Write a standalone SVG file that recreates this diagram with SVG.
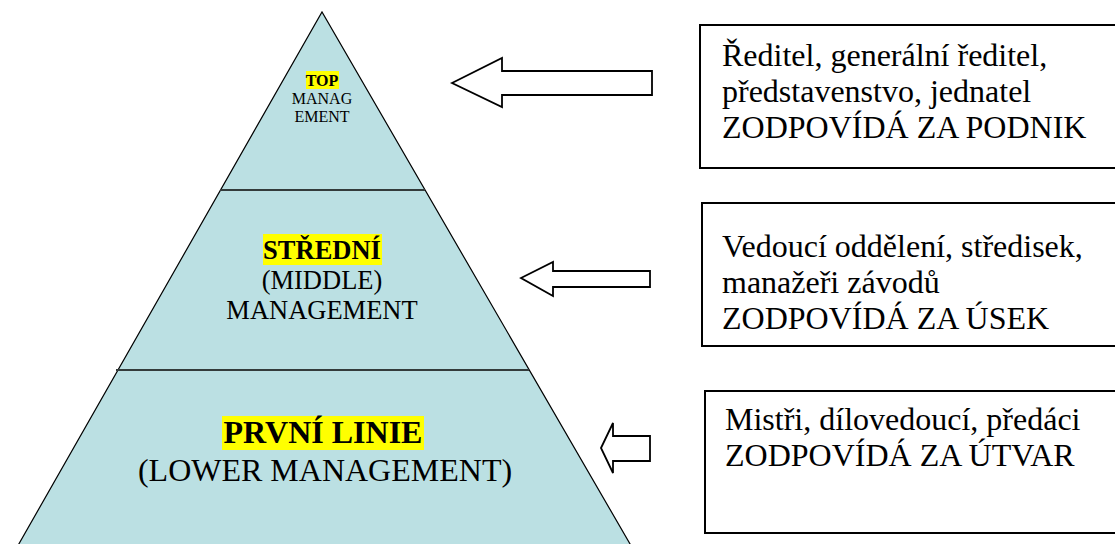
<svg xmlns="http://www.w3.org/2000/svg" width="1115" height="544" viewBox="0 0 1115 544">
<style>
text{font-family:'Liberation Serif','DejaVu Serif',serif;fill:#000}
.b{font-weight:bold}
.hl{fill:#ffff00}
.lvl{fill:#bbe0e3;stroke:none}
.edge{fill:none;stroke:#000;stroke-width:1.2}
.div{stroke:#333b3b;stroke-width:2.2}
.box{fill:#fff;stroke:#000;stroke-width:2}
.arr{fill:#fff;stroke:#000;stroke-width:1.8;stroke-linejoin:miter}
</style>
<g id="pyramid">
<polygon class="lvl" points="322,12 12,556 637,556"/>
<polyline class="edge" points="12,556 322,12 637,556"/>
</g>
<g id="top-level">
<rect class="hl" x="306" y="71" width="33" height="18"/>
<text class="b" x="322" y="86" font-size="16" text-anchor="middle" font-family="Liberation Serif">TOP</text>
<text x="322" y="104" font-size="16" text-anchor="middle" font-family="Liberation Serif">MANAG</text>
<text x="322" y="122" font-size="16" text-anchor="middle" font-family="Liberation Serif">EMENT</text>
</g>
<g id="middle-level">
<line class="div" x1="220" y1="190" x2="425" y2="190"/>
<rect class="hl" x="263" y="234" width="119" height="31"/>
<text class="b" x="322" y="259" font-size="26.5" text-anchor="middle" font-family="Liberation Serif">STŘEDNÍ</text>
<text x="322" y="289" font-size="26.5" text-anchor="middle" font-family="Liberation Serif">(MIDDLE)</text>
<text x="322" y="319" font-size="26.5" text-anchor="middle" font-family="Liberation Serif">MANAGEMENT</text>
</g>
<g id="lower-level">
<line class="div" x1="116" y1="370" x2="529" y2="370"/>
<rect class="hl" x="222" y="416" width="202" height="34"/>
<text class="b" x="323" y="443" font-size="32" text-anchor="middle" font-family="Liberation Serif">PRVNÍ LINIE</text>
<text x="325" y="481" font-size="32" text-anchor="middle" font-family="Liberation Serif">(LOWER MANAGEMENT)</text>
</g>
<g id="connectors">
<polygon class="arr" points="452,83 502,58 502,71 652,71 652,95 502,95 502,107"/>
<polygon class="arr" points="521,278 553,262 553,271 650,271 650,287 553,287 553,296"/>
<polygon class="arr" points="601,448 613,423 613,436 650,436 650,461 613,461 613,473"/>
</g>
<g id="box-top">
<rect class="box" x="700" y="25" width="430" height="143"/>
<text x="722" y="66" font-size="32" font-family="Liberation Serif">Ředitel, generální ředitel,</text>
<text x="722" y="102" font-size="32" font-family="Liberation Serif">představenstvo, jednatel</text>
<text x="722" y="138" font-size="32" font-family="Liberation Serif">ZODPOVÍDÁ ZA PODNIK</text>
</g>
<g id="box-middle">
<rect class="box" x="702" y="203" width="430" height="143"/>
<text x="722" y="257" font-size="32" font-family="Liberation Serif">Vedoucí oddělení, středisek,</text>
<text x="722" y="293" font-size="32" font-family="Liberation Serif">manažeři závodů</text>
<text x="722" y="329" font-size="32" font-family="Liberation Serif">ZODPOVÍDÁ ZA ÚSEK</text>
</g>
<g id="box-lower">
<rect class="box" x="705" y="391" width="430" height="142"/>
<text x="725" y="430" font-size="32" font-family="Liberation Serif">Mistři, dílovedoucí, předáci</text>
<text x="725" y="466" font-size="32" font-family="Liberation Serif">ZODPOVÍDÁ ZA ÚTVAR</text>
</g>
</svg>
